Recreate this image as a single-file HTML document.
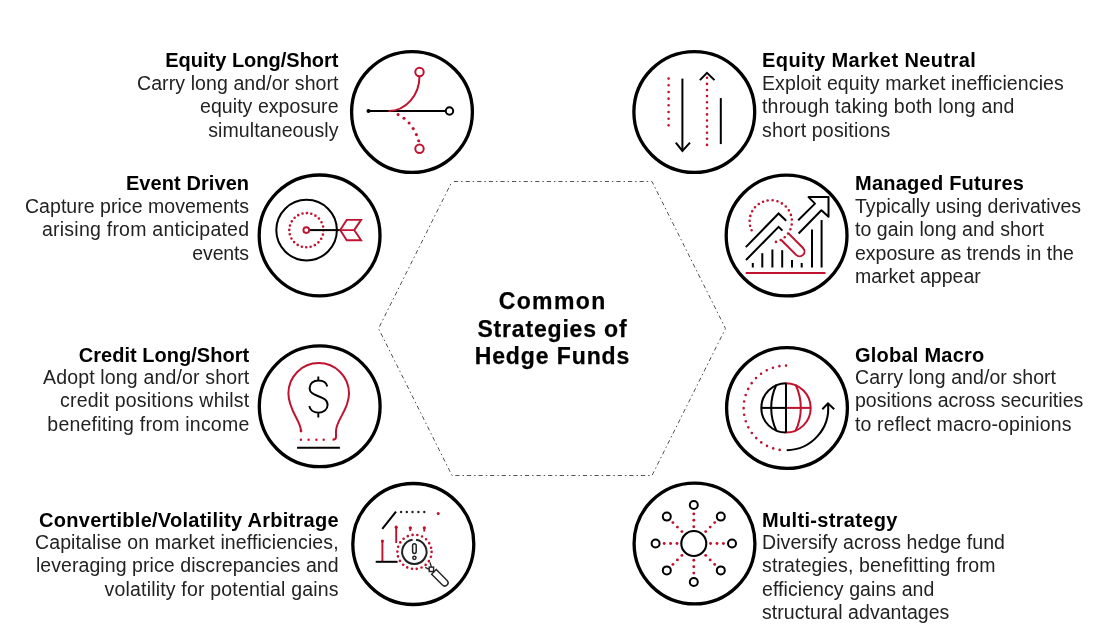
<!DOCTYPE html>
<html><head><meta charset="utf-8">
<style>
html,body{margin:0;padding:0;background:#fff;}
body{width:1105px;height:631px;position:relative;overflow:hidden;font-family:"Liberation Sans",sans-serif;}
svg{position:absolute;left:0;top:0;}
.t{position:absolute;font-size:19.5px;line-height:23.45px;color:#222;white-space:nowrap;will-change:transform;}
.t p{margin:0;}
.t b{display:block;font-size:20px;line-height:22.6px;color:#000;}
.r{text-align:right;}
.c{position:absolute;will-change:transform;font-weight:bold;font-size:23px;line-height:27.5px;color:#000;text-align:center;-webkit-text-stroke:0.25px #000;white-space:nowrap;}
</style></head>
<body>
<svg width="1105" height="631" viewBox="0 0 1105 631">
<defs></defs>
<!-- hexagon -->
<polygon points="452,181.5 652,181.5 725.5,328.5 652,475.5 452,475.5 378.5,328.5" fill="none" stroke="#555" stroke-width="1" stroke-dasharray="4.2 2.9 1.5 3" stroke-dashoffset="-2"/>
<!-- big circles -->
<g fill="none" stroke="#000" stroke-width="3.3">
<circle cx="412" cy="112" r="60.4"/>
<circle cx="319.6" cy="235.4" r="60.4"/>
<circle cx="319.7" cy="406.3" r="60.4"/>
<circle cx="413.3" cy="544" r="60.5"/>
<circle cx="694.3" cy="112" r="60.4"/>
<circle cx="786.6" cy="235.5" r="60.4"/>
<circle cx="787" cy="408" r="60.4"/>
<circle cx="694.5" cy="543.5" r="60.4"/>
</g>

<!-- icon 1: equity long/short -->
<g stroke-width="2" fill="none">
<line x1="368.5" y1="111" x2="445.8" y2="111" stroke="#000"/>
<circle cx="368.5" cy="111" r="2" fill="#000" stroke="none"/>
<circle cx="449.5" cy="111" r="3.7" stroke="#000" fill="#fff"/>
<path d="M388.5,111 C406,111 419.5,95 419.5,76.3" stroke="#c0132f"/>
<circle cx="419.5" cy="72" r="4.2" stroke="#c0132f" fill="#fff"/>
<circle cx="419.5" cy="148.8" r="4.2" stroke="#c0132f" fill="#fff"/>
<g fill="#c0132f" stroke="none">
<circle cx="398.1" cy="114.6" r="1.55"/><circle cx="404" cy="118.3" r="1.55"/><circle cx="409.1" cy="123" r="1.55"/>
<circle cx="413.2" cy="128.6" r="1.55"/><circle cx="416.4" cy="134.6" r="1.55"/><circle cx="418.7" cy="140.8" r="1.55"/>
</g>
</g>

<!-- icon 2: event driven -->
<g stroke-width="2" fill="none">
<circle cx="306.6" cy="230.1" r="30.3" stroke="#000"/>
<circle cx="306.4" cy="230.2" r="17.1" stroke="#c0132f" stroke-width="2.6" stroke-linecap="round" stroke-dasharray="0 4.476"/>
<line x1="309.4" y1="230.1" x2="340.2" y2="230.1" stroke="#000"/>
<circle cx="306.3" cy="230.1" r="2.9" stroke="#c0132f" stroke-width="1.9"/>
<path d="M340.2,230.1 L346.7,219.9 L361.1,219.9 L354.2,230.1 L361.1,240.2 L346.7,240.2 Z M340.2,230.1 L354.2,230.1" stroke="#c0132f" stroke-width="1.9" stroke-linejoin="miter"/>
</g>

<!-- icon 3: credit long/short (bulb) -->
<g stroke-width="2" fill="none">
<path d="M301,431 C301,421 288.4,410 288.4,393.4 A30.3,30.3 0 0 1 349,393.4 C349,410 336,420 336,431 L336,437 Q336,439.8 332.5,439.8" stroke="#c0132f"/>
<circle cx="301" cy="431" r="1.4" fill="#c0132f" stroke="none"/>
<g fill="#c0132f"><circle cx="300.9" cy="439.8" r="1.2"/><circle cx="308.6" cy="439.8" r="1.2"/><circle cx="316.4" cy="439.8" r="1.2"/><circle cx="323.7" cy="439.8" r="1.2"/></g>
<line x1="297.1" y1="447.7" x2="339.9" y2="447.7" stroke="#000"/>
<path d="M318.3,376.4 L318.3,380.5 M318.3,412.7 L318.3,417.6 M327.3,386.5 C326.5,382.5 322.8,380.5 318.4,380.5 C313.5,380.5 309.6,383.5 309.6,388 C309.6,398 327.6,394.5 327.6,405 C327.6,409.5 323.5,412.7 318.4,412.7 C313.6,412.7 310,410 309.3,406" stroke="#000" stroke-width="1.9"/>
</g>

<!-- icon 4: convertible -->
<g stroke-width="2" fill="none">
<line x1="382.3" y1="528.8" x2="396" y2="511.6" stroke="#000"/>
<g fill="#222" stroke="none"><circle cx="401.1" cy="512" r="1.2"/><circle cx="406.8" cy="512" r="1.2"/><circle cx="412.5" cy="512" r="1.2"/><circle cx="418.4" cy="512" r="1.2"/><circle cx="424.3" cy="512" r="1.2"/></g>
<circle cx="438.2" cy="513.6" r="1.5" fill="#c0132f" stroke="none"/>
<g stroke="#c0132f" stroke-width="1.9">
<line x1="382.4" y1="541.1" x2="382.4" y2="561.4"/>
<line x1="396.2" y1="527.2" x2="396.2" y2="543"/>
<line x1="410.3" y1="527.8" x2="410.3" y2="531"/>
<line x1="424.3" y1="527.8" x2="424.3" y2="531.6"/>
</g>
<g fill="#c0132f" stroke="none"><circle cx="382.4" cy="541.1" r="1.6"/><circle cx="396.2" cy="527.2" r="1.6"/><circle cx="410.3" cy="527.8" r="1.6"/><circle cx="424.3" cy="527.8" r="1.6"/></g>
<line x1="375.7" y1="561.8" x2="397.6" y2="561.8" stroke="#000"/>
<circle cx="414.5" cy="551.9" r="17.1" stroke="#c0132f" stroke-width="2.6" stroke-linecap="round" stroke-dasharray="0 4.88"/>
<path d="M416.1,539.7 A12.2,12.2 0 1 1 412.6,539.7" stroke="#222" stroke-width="2"/>
<rect x="412.6" y="543.8" width="3.6" height="9.6" rx="1.8" stroke="#222" stroke-width="1.5"/>
<circle cx="414.4" cy="557.8" r="1.6" stroke="#222" stroke-width="1.5"/>
<path d="M430,562.4 L431.4,567 M425.3,567.4 L429.2,569.3" stroke="#222" stroke-width="1.3"/>
<rect x="429.2" y="567.1" width="4.4" height="4.4" stroke="#222" stroke-width="1.4"/>
<g transform="translate(434.5,572.5) rotate(45)"><path d="M-0.8,-3.3 L14.5,-3.3 A3.3,3.3 0 0 1 14.5,3.3 L-0.8,3.3 Z" stroke="#222" stroke-width="1.4" fill="#fff"/></g>
</g>

<!-- icon 5: equity market neutral -->
<g stroke-width="2" fill="none">
<line x1="668.6" y1="78.6" x2="668.6" y2="125.4" stroke="#c0132f" stroke-width="2.6" stroke-linecap="round" stroke-dasharray="0 6.68"/>
<line x1="707" y1="77.8" x2="707" y2="145" stroke="#c0132f" stroke-width="2.6" stroke-linecap="round" stroke-dasharray="0 6.1"/>
<line x1="682.4" y1="78.6" x2="682.4" y2="150.5" stroke="#000"/>
<path d="M675.8,142.6 L682.4,150.9 L690,142.6" stroke="#000"/>
<path d="M699.9,80.1 L707,72.8 L714.5,80.1" stroke="#000"/>
<line x1="720.8" y1="98.1" x2="720.8" y2="144.1" stroke="#000"/>
</g>

<!-- icon 6: managed futures -->
<g stroke-width="2" fill="none">
<line x1="745.7" y1="273.1" x2="825.5" y2="273.1" stroke="#c0132f"/>
<g stroke="#000">
<line x1="752.8" y1="263" x2="752.8" y2="267.5"/>
<line x1="762.3" y1="253.2" x2="762.3" y2="267.5"/>
<line x1="772.4" y1="249.5" x2="772.4" y2="267.5"/>
<line x1="782.2" y1="250.2" x2="782.2" y2="267.5"/>
<line x1="792" y1="260" x2="792" y2="267.5"/>
<line x1="801.7" y1="263" x2="801.7" y2="267.5"/>
<line x1="812" y1="229.6" x2="812" y2="267.5"/>
<line x1="821.6" y1="220" x2="821.6" y2="267.5"/>
<polyline points="745.8,247.1 778.6,213.5 786.2,220.7"/>
<polyline points="746,260 778.6,226.8 782.4,230.6"/>
<polyline points="798.2,220.3 815,203.6 808.5,197.1 828.5,197.1 828.5,216.7 821.4,210.3 798.6,233.5" stroke-linejoin="round"/>
</g>
<path d="M751.6,230.3 A21.15,21.15 0 1 1 771.9,242.5" stroke="#c0132f" stroke-width="2.6" stroke-linecap="round" stroke-dasharray="0 4.895"/>
<g transform="translate(785,236.85) rotate(45)"><path d="M0,-4.9 L20.6,-4.9 A4.9,4.9 0 0 1 20.6,4.9 L0,4.9" stroke="#c0132f" stroke-width="2"/></g>
</g>

<!-- icon 7: global macro -->
<g stroke-width="2" fill="none">
<path d="M786,383.2 A24.7,24.7 0 0 0 786,432.6" stroke="#000"/>
<path d="M786,383.2 A24.7,24.7 0 0 1 786,432.6" stroke="#c0132f"/>
<line x1="761.3" y1="407.9" x2="786" y2="407.9" stroke="#000"/>
<line x1="786" y1="407.9" x2="810.7" y2="407.9" stroke="#c0132f"/>
<path d="M776.4,384.7 A53.7,53.7 0 0 0 776.4,430.8" stroke="#000"/>
<path d="M795.6,384.7 A53.7,53.7 0 0 1 795.6,430.8" stroke="#c0132f"/>
<line x1="786" y1="383.2" x2="786" y2="432.6" stroke="#000" stroke-width="2"/>
<path d="M786,365.6 A42.4,42.4 0 0 0 786,450.4" stroke="#c0132f" stroke-width="2.6" stroke-linecap="round" stroke-dasharray="0 6.659"/>
<path d="M786.7,450.2 A42,42 0 0 0 828,404" stroke="#000"/>
<path d="M822.3,409.3 L828,403.3 L834.2,409.3" stroke="#000"/>
</g>

<!-- icon 8: multi-strategy -->
<g stroke-width="2" fill="none" stroke="#000">
<circle cx="693.8" cy="543.5" r="12.5" stroke-width="2.1"/>
<circle cx="693.8" cy="505" r="4"/>
<circle cx="693.8" cy="582" r="4"/>
<circle cx="655.6" cy="543.5" r="4"/>
<circle cx="732" cy="543.5" r="4"/>
<circle cx="666.8" cy="516.6" r="4"/>
<circle cx="720.8" cy="516.6" r="4"/>
<circle cx="666.8" cy="570.4" r="4"/>
<circle cx="720.8" cy="570.4" r="4"/>
</g>
<g fill="#c0132f"><circle cx="710.6" cy="543.5" r="1.45"/><circle cx="717.0" cy="543.5" r="1.45"/><circle cx="723.4" cy="543.5" r="1.45"/><circle cx="705.7" cy="555.4" r="1.45"/><circle cx="710.2" cy="559.9" r="1.45"/><circle cx="714.7" cy="564.4" r="1.45"/><circle cx="693.8" cy="560.3" r="1.45"/><circle cx="693.8" cy="566.7" r="1.45"/><circle cx="693.8" cy="573.1" r="1.45"/><circle cx="681.9" cy="555.4" r="1.45"/><circle cx="677.4" cy="559.9" r="1.45"/><circle cx="672.9" cy="564.4" r="1.45"/><circle cx="677.0" cy="543.5" r="1.45"/><circle cx="670.6" cy="543.5" r="1.45"/><circle cx="664.2" cy="543.5" r="1.45"/><circle cx="681.9" cy="531.6" r="1.45"/><circle cx="677.4" cy="527.1" r="1.45"/><circle cx="672.9" cy="522.6" r="1.45"/><circle cx="693.8" cy="526.7" r="1.45"/><circle cx="693.8" cy="520.3" r="1.45"/><circle cx="693.8" cy="513.9" r="1.45"/><circle cx="705.7" cy="531.6" r="1.45"/><circle cx="710.2" cy="527.1" r="1.45"/><circle cx="714.7" cy="522.6" r="1.45"/></g>
</svg>

<div class="t r" style="right:766.6px;top:48.65px"><b style="letter-spacing:0.000px;margin-right:0.000px;">Equity Long/Short</b><p style="letter-spacing:0.095px;margin-right:-0.095px;">Carry long and/or short</p><p style="letter-spacing:0.057px;margin-right:-0.057px;">equity exposure</p><p style="letter-spacing:0.100px;margin-right:-0.100px;">simultaneously</p></div>
<div class="t r" style="right:855.6px;top:172.05px"><b style="letter-spacing:0.080px;margin-right:-0.080px;">Event Driven</b><p style="letter-spacing:0.036px;margin-right:-0.036px;">Capture price movements</p><p style="letter-spacing:0.239px;margin-right:-0.239px;">arising from anticipated</p><p style="letter-spacing:-0.140px;margin-right:0.140px;">events</p></div>
<div class="t r" style="right:855.6px;top:343.35px"><b style="position:relative;top:1px;letter-spacing:0.030px;margin-right:-0.030px;">Credit Long/Short</b><p style="letter-spacing:0.159px;margin-right:-0.159px;">Adopt long and/or short</p><p style="letter-spacing:0.227px;margin-right:-0.227px;">credit positions whilst</p><p style="letter-spacing:0.219px;margin-right:-0.219px;">benefiting from income</p></div>
<div class="t r" style="right:766.6px;top:508.15px"><b style="position:relative;top:1px;letter-spacing:0.270px;margin-right:-0.270px;">Convertible/Volatility Arbitrage</b><p style="letter-spacing:0.106px;margin-right:-0.106px;">Capitalise on market inefficiencies,</p><p style="letter-spacing:0.073px;margin-right:-0.073px;">leveraging price discrepancies and</p><p style="letter-spacing:0.183px;margin-right:-0.183px;">volatility for potential gains</p></div>
<div class="t" style="left:762px;top:48.65px"><b style="letter-spacing:0.410px;">Equity Market Neutral</b><p style="letter-spacing:0.117px;">Exploit equity market inefficiencies</p><p style="letter-spacing:0.189px;">through taking both long and</p><p style="letter-spacing:0.179px;">short positions</p></div>
<div class="t" style="left:854.5px;top:172.05px"><b style="letter-spacing:0.240px;">Managed Futures</b><p style="letter-spacing:0.023px;">Typically using derivatives</p><p style="letter-spacing:0.062px;">to gain long and short</p><p style="letter-spacing:-0.004px;">exposure as trends in the</p><p style="letter-spacing:0.000px;">market appear</p></div>
<div class="t" style="left:854.5px;top:343.35px"><b style="position:relative;top:1px;letter-spacing:0.230px;">Global Macro</b><p style="letter-spacing:0.073px;">Carry long and/or short</p><p style="letter-spacing:0.027px;">positions across securities</p><p style="letter-spacing:0.125px;">to reflect macro-opinions</p></div>
<div class="t" style="left:762px;top:508.15px"><b style="position:relative;top:1px;letter-spacing:0.330px;">Multi-strategy</b><p style="letter-spacing:0.088px;">Diversify across hedge fund</p><p style="letter-spacing:0.141px;">strategies, benefitting from</p><p style="letter-spacing:0.074px;">efficiency gains and</p><p style="letter-spacing:0.045px;">structural advantages</p></div>

<div class="c" style="left:402px;width:300px;top:287.5px"><p style="letter-spacing:1.4px;margin:0 -1.4px 0 0">Common</p><p style="letter-spacing:0.82px;margin:0 -0.82px 0 0">Strategies of</p><p style="letter-spacing:0.9px;margin:0 -0.9px 0 0">Hedge Funds</p></div>
</body></html>
